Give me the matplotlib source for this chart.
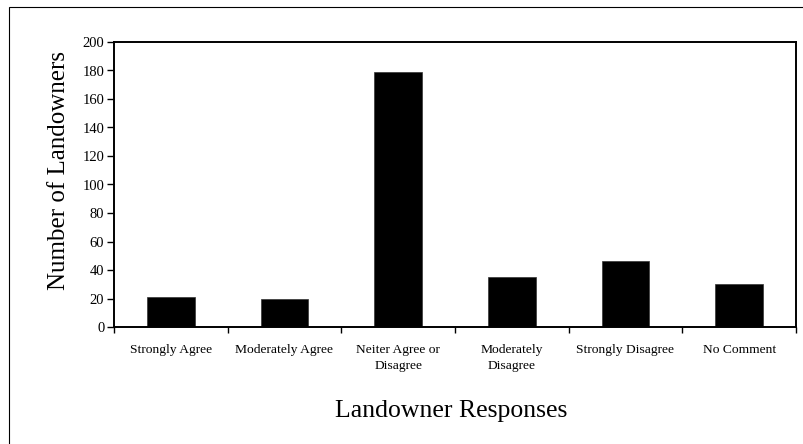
import matplotlib
matplotlib.use("Agg")
import matplotlib.pyplot as plt
from matplotlib.patches import Rectangle

# Survey responses
responses = ["Strongly Agree", "Moderately Agree", "Neiter Agree or\nDisagree",
             "Moderately\nDisagree", "Strongly Disagree", "No Comment"]
counts = [21, 20, 179, 35, 46, 30]
y_ticks = [0, 20, 40, 60, 80, 100, 120, 140, 160, 180, 200]

plt.rcParams["font.family"] = ["Liberation Serif", "DejaVu Serif"]

fig = plt.figure(figsize=(8.04, 4.44), dpi=100)
ax = fig.add_axes([114 / 804, 1 - 327 / 444, (796 - 114) / 804, (327 - 42) / 444])

pos = list(range(len(responses)))
ax.bar(pos, counts, width=0.42, color="black", edgecolor="#333333", linewidth=0.5)

ax.set_xlim(-0.5, len(responses) - 0.5)
ax.set_ylim(0, 200)
ax.set_yticks(y_ticks)

# ticks between categories, labels at the centres
ax.set_xticks([p - 0.5 for p in pos] + [len(responses) - 0.5])
ax.set_xticklabels([])
ax.set_xticks(pos, minor=True)
ax.set_xticklabels(responses, minor=True, fontsize=9.7, linespacing=1.45)
ax.tick_params(axis="x", which="major", direction="out", length=4, width=1)
ax.tick_params(axis="x", which="minor", length=0, pad=12)
ax.tick_params(axis="y", direction="out", length=5, width=1, pad=2, labelsize=10.5)

for s in ax.spines.values():
    s.set_linewidth(1.4)

ax.set_ylabel("Number of Landowners", fontsize=18, va="center")
ax.yaxis.set_label_coords(-0.08, 0.55)
ax.set_xlabel("Landowner Responses", fontsize=18.5, va="top")
ax.xaxis.set_label_coords(0.495, -0.255)

# outer frame of the original chart area
fig.patches.append(Rectangle((9 / 804, -0.1), 1.2, 1 - 7 / 444 + 0.1,
                             transform=fig.transFigure, fill=False,
                             edgecolor="black", linewidth=0.8))

fig.savefig("out.png", dpi=100)
